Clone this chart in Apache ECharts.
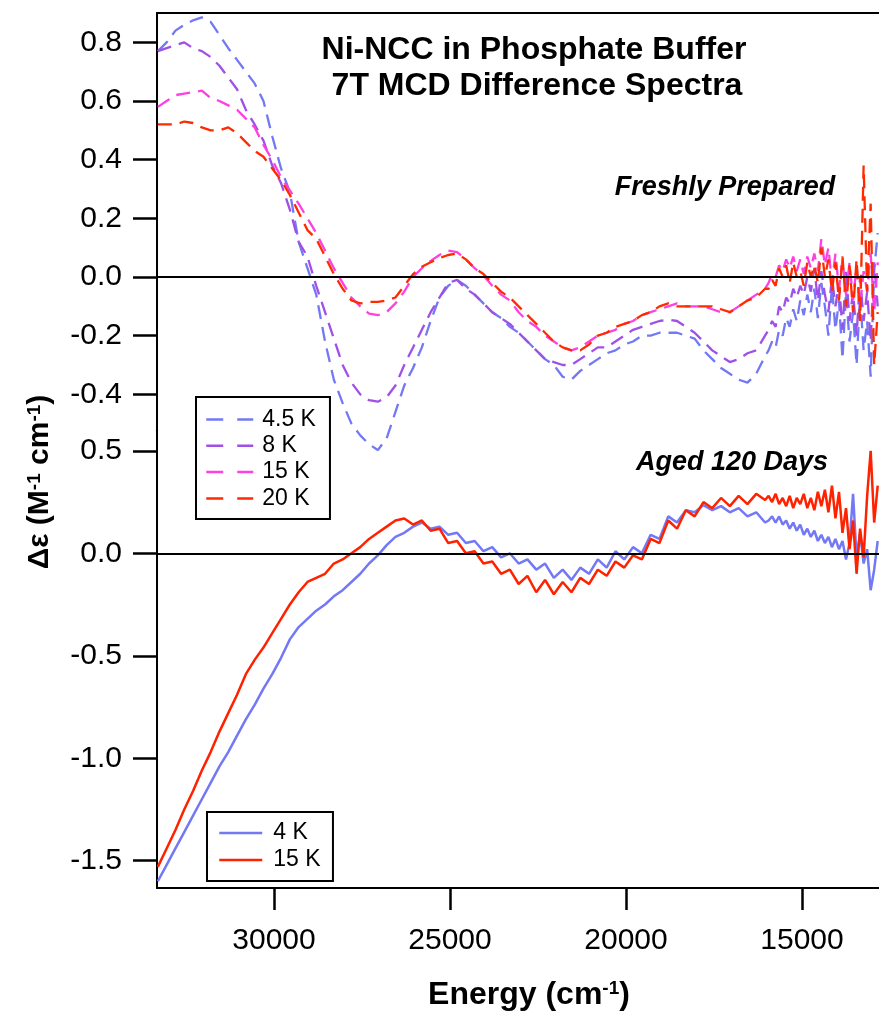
<!DOCTYPE html>
<html><head><meta charset="utf-8">
<script src="https://cdn.jsdelivr.net/npm/echarts@6/dist/echarts.min.js"></script>
<style>html,body{margin:0;padding:0;background:#fff}#c{width:879px;height:1014px}</style>
</head><body><div id="c"></div>
<script>
// Energy axis (cm^-1)
const energy = [33300,33050,32800,32550,32300,32050,31800,31550,31300,31050,30800,30550,30300,30050,29800,29550,29300,29050,28800,28550,28300,28050,27800,27550,27300,27050,26800,26550,26300,26050,25800,25550,25300,25050,24800,24550,24300,24050,23800,23550,23300,23050,22800,22550,22300,22050,21800,21550,21300,21050,20800,20550,20300,20050,19800,19550,19300,19050,18800,18550,18300,18050,17800,17550,17300,17050,16800,16550,16300,16050,
15950,15850,15750,15650,15550,15450,15350,15250,15150,15050,14950,14850,14750,14650,14550,14450,14350,14250,14150,14050,13950,13850,13750,13650,13550,13450,13350,13250,13150,13050,12950,12850];

// Freshly prepared (dashed)
const fresh_4_5K = [0.77,0.80,0.84,0.86,0.875,0.885,0.87,0.825,0.78,0.74,0.70,0.66,0.60,0.48,0.37,0.29,0.12,0.03,-0.06,-0.22,-0.35,-0.43,-0.50,-0.54,-0.57,-0.59,-0.55,-0.46,-0.37,-0.31,-0.24,-0.15,-0.07,-0.03,-0.01,-0.03,-0.06,-0.09,-0.12,-0.14,-0.17,-0.19,-0.22,-0.25,-0.28,-0.30,-0.34,-0.35,-0.32,-0.30,-0.28,-0.26,-0.25,-0.23,-0.22,-0.20,-0.20,-0.19,-0.19,-0.19,-0.20,-0.21,-0.25,-0.28,-0.31,-0.33,-0.35,-0.36,-0.33,-0.27,
-0.25,-0.22,-0.24,-0.18,-0.20,-0.14,-0.17,-0.11,-0.15,-0.08,-0.13,-0.06,-0.12,-0.04,-0.14,-0.02,-0.10,-0.20,-0.03,-0.18,-0.08,-0.28,-0.05,-0.22,-0.12,-0.30,-0.06,-0.25,-0.15,-0.34,0.02,0.15];
const fresh_8K = [0.77,0.78,0.79,0.80,0.78,0.77,0.75,0.72,0.68,0.64,0.57,0.52,0.465,0.38,0.32,0.23,0.12,0.07,-0.03,-0.12,-0.21,-0.30,-0.36,-0.40,-0.42,-0.425,-0.41,-0.37,-0.30,-0.24,-0.18,-0.12,-0.07,-0.02,-0.01,-0.04,-0.06,-0.09,-0.12,-0.14,-0.16,-0.19,-0.22,-0.25,-0.28,-0.29,-0.30,-0.30,-0.28,-0.26,-0.24,-0.24,-0.22,-0.20,-0.18,-0.17,-0.16,-0.15,-0.145,-0.15,-0.17,-0.19,-0.22,-0.25,-0.27,-0.29,-0.28,-0.26,-0.25,-0.20,
-0.18,-0.15,-0.17,-0.10,-0.12,-0.07,-0.09,-0.04,-0.07,-0.03,-0.06,0.00,-0.05,0.03,-0.08,0.02,-0.06,-0.12,0.00,-0.10,-0.02,-0.18,0.02,-0.15,-0.05,-0.20,0.00,-0.15,-0.05,-0.22,0.05,-0.10];
const fresh_15K = [0.58,0.60,0.62,0.625,0.63,0.635,0.61,0.60,0.585,0.57,0.54,0.51,0.45,0.40,0.34,0.295,0.25,0.20,0.15,0.09,0.03,-0.02,-0.07,-0.10,-0.125,-0.13,-0.12,-0.09,-0.05,0.00,0.03,0.055,0.075,0.09,0.085,0.06,0.03,0.005,-0.03,-0.06,-0.08,-0.12,-0.15,-0.17,-0.20,-0.22,-0.24,-0.25,-0.24,-0.22,-0.20,-0.19,-0.18,-0.16,-0.15,-0.13,-0.12,-0.11,-0.10,-0.09,-0.10,-0.10,-0.10,-0.11,-0.12,-0.12,-0.10,-0.08,-0.06,-0.04,
-0.02,0.01,0.00,0.04,0.02,0.06,0.03,0.07,0.02,0.06,0.01,0.07,0.03,0.08,0.02,0.13,0.04,0.10,-0.02,0.08,-0.04,0.06,-0.06,0.05,-0.08,0.04,-0.10,0.02,-0.05,0.08,-0.12,0.05];
const fresh_20K = [0.52,0.52,0.52,0.53,0.525,0.51,0.50,0.50,0.51,0.49,0.46,0.43,0.41,0.37,0.33,0.28,0.22,0.16,0.13,0.07,0.01,-0.04,-0.08,-0.09,-0.085,-0.085,-0.08,-0.07,-0.03,0.01,0.035,0.05,0.065,0.075,0.08,0.06,0.03,0.01,-0.02,-0.05,-0.07,-0.10,-0.13,-0.16,-0.19,-0.22,-0.24,-0.25,-0.25,-0.23,-0.20,-0.19,-0.17,-0.16,-0.15,-0.13,-0.12,-0.10,-0.09,-0.10,-0.10,-0.10,-0.10,-0.10,-0.11,-0.12,-0.10,-0.08,-0.07,-0.04,
-0.04,-0.01,-0.03,0.03,0.00,0.04,-0.02,0.05,0.00,0.02,-0.03,0.05,0.00,0.04,-0.02,0.10,0.00,0.06,-0.05,0.05,-0.08,0.07,-0.10,0.04,-0.12,0.06,-0.15,0.38,-0.05,0.25,-0.30,-0.12];

// Aged 120 days (solid)
const aged_4K = [-1.60,-1.52,-1.44,-1.36,-1.28,-1.20,-1.12,-1.04,-0.97,-0.89,-0.81,-0.74,-0.66,-0.59,-0.51,-0.42,-0.36,-0.32,-0.28,-0.25,-0.21,-0.18,-0.14,-0.10,-0.05,-0.01,0.04,0.08,0.10,0.13,0.15,0.12,0.13,0.09,0.10,0.05,0.06,0.01,0.03,-0.02,0.00,-0.05,-0.03,-0.08,-0.05,-0.12,-0.08,-0.13,-0.07,-0.10,-0.03,-0.07,0.01,-0.03,0.03,0.00,0.09,0.07,0.18,0.15,0.21,0.20,0.235,0.21,0.23,0.20,0.22,0.18,0.20,0.15,
0.16,0.18,0.15,0.18,0.14,0.16,0.12,0.15,0.11,0.14,0.09,0.12,0.08,0.11,0.06,0.09,0.05,0.08,0.03,0.07,0.02,0.06,-0.03,0.05,0.29,-0.02,0.10,-0.05,0.02,-0.18,-0.08,0.06];
const aged_15K = [-1.53,-1.44,-1.35,-1.25,-1.16,-1.06,-0.97,-0.87,-0.78,-0.69,-0.59,-0.52,-0.46,-0.39,-0.32,-0.25,-0.19,-0.14,-0.12,-0.10,-0.05,-0.03,0.00,0.03,0.07,0.10,0.13,0.16,0.17,0.14,0.16,0.11,0.12,0.05,0.06,0.00,0.01,-0.05,-0.04,-0.10,-0.08,-0.15,-0.11,-0.19,-0.13,-0.20,-0.14,-0.19,-0.12,-0.15,-0.08,-0.11,-0.04,-0.07,-0.01,-0.03,0.07,0.05,0.16,0.12,0.21,0.18,0.25,0.22,0.27,0.23,0.28,0.24,0.29,0.26,
0.28,0.25,0.29,0.24,0.27,0.23,0.28,0.22,0.27,0.24,0.29,0.22,0.27,0.21,0.30,0.23,0.31,0.20,0.33,0.17,0.30,0.10,0.22,0.02,0.16,-0.10,0.12,-0.02,0.28,0.50,0.15,0.33];

const freshNames = ['4.5 K','8 K','15 K','20 K'];
const agedNames = ['4 K','15 K '];
const topTicks = [-0.4,-0.2,0,0.2,0.4,0.6,0.8];
const bottomTicks = [-1.5,-1,-0.5,0,0.5];
const xTicks = [15000,20000,25000,30000];

const FONT = '"Liberation Sans", Arial, Helvetica, sans-serif';
const C_BLUE='#7378F5', C_PURPLE='#A050E6', C_MAG='#FF40E0', C_RED='#FF2A00', C_RED2='#FF2200';
const X_MIN=12813, X_MAX=33324;
function pairs(vals){ return energy.map((e,i)=>[e, vals[i]]); }
const fmt1 = v => Number(v).toFixed(1);
const zeroLine = {silent:true,symbol:'none',label:{show:false},lineStyle:{color:'#000',type:'solid',width:2},data:[{yAxis:0}]};

function dashed(name,vals,color,extra){
  return Object.assign({name,type:'line',xAxisIndex:0,yAxisIndex:0,data:pairs(vals),symbol:'none',
    lineStyle:{color,width:2.3,type:[14,8]},itemStyle:{color}},extra||{});
}
function solid(name,vals,color,extra){
  return Object.assign({name,type:'line',xAxisIndex:1,yAxisIndex:1,data:pairs(vals),symbol:'none',
    lineStyle:{color,width:2.5,type:'solid'},itemStyle:{color}},extra||{});
}
const yLabel = (ticks)=>({customValues:ticks,margin:35,fontSize:30,color:'#000',fontFamily:FONT,formatter:fmt1});
const yTick = (ticks)=>({show:true,length:24,customValues:ticks,lineStyle:{width:2.5,color:'#000'}});

const chart = echarts.init(document.getElementById('c'));
chart.setOption({
  animation:false,
  backgroundColor:'#fff',
  grid:[{left:157,right:0,top:13,height:440},{left:157,right:0,top:430.3,height:457.7}],
  xAxis:[
    {gridIndex:0,type:'value',min:X_MIN,max:X_MAX,inverse:true,position:'top',
     axisLine:{show:true,onZero:false,lineStyle:{color:'#000',width:2}},axisTick:{show:false},axisLabel:{show:false},splitLine:{show:false}},
    {gridIndex:1,type:'value',min:X_MIN,max:X_MAX,inverse:true,position:'bottom',
     axisLine:{show:true,onZero:false,lineStyle:{color:'#000',width:2}},
     axisTick:{show:true,length:22,customValues:xTicks,lineStyle:{width:2.5,color:'#000'}},
     axisLabel:{customValues:xTicks,margin:38,fontSize:30,color:'#000',fontFamily:FONT,formatter:v=>String(v)},
     splitLine:{show:false}}
  ],
  yAxis:[
    {gridIndex:0,type:'value',min:-0.6,max:0.9,axisLine:{show:true,onZero:false,lineStyle:{color:'#000',width:2}},
     axisTick:yTick(topTicks),axisLabel:yLabel(topTicks),splitLine:{show:false}},
    {gridIndex:1,type:'value',min:-1.633,max:0.6,axisLine:{show:true,onZero:false,lineStyle:{color:'#000',width:2}},
     axisTick:yTick(bottomTicks),axisLabel:yLabel(bottomTicks),splitLine:{show:false}}
  ],
  legend:[
    {data:freshNames,orient:'vertical',left:196,top:397,itemWidth:47,itemHeight:21,itemGap:3.3,
     padding:[11,14,9,9],borderColor:'#000',borderWidth:2,backgroundColor:'#fff',selectedMode:false,
     itemStyle:{opacity:0},lineStyle:{type:[17,14],width:2.5},
     textStyle:{fontSize:23,fontFamily:FONT,color:'#000',lineHeight:21,padding:[0,0,0,4]}},
    {data:agedNames,orient:'vertical',left:207,top:812,itemWidth:43,itemHeight:21,itemGap:4,
     padding:[9.5,6,9.5,11],borderColor:'#000',borderWidth:2,backgroundColor:'#fff',selectedMode:false,
     itemStyle:{opacity:0},lineStyle:{width:2.5},
     textStyle:{fontSize:23,fontFamily:FONT,color:'#000',lineHeight:21,padding:[0,0,0,6]}}
  ],
  series:[
    dashed(freshNames[0],fresh_4_5K,C_BLUE,{markLine:zeroLine}),
    dashed(freshNames[1],fresh_8K,C_PURPLE),
    dashed(freshNames[2],fresh_15K,C_MAG),
    dashed(freshNames[3],fresh_20K,C_RED),
    solid(agedNames[0],aged_4K,C_BLUE,{markLine:zeroLine}),
    solid(agedNames[1],aged_15K,C_RED2)
  ],
  graphic:[
    {type:'text',x:534,y:50,style:{text:'Ni-NCC in Phosphate Buffer',font:'bold 32px '+FONT,fill:'#000',textAlign:'center',textVerticalAlign:'middle'}},
    {type:'text',x:537,y:86,style:{text:'7T MCD Difference Spectra',font:'bold 32px '+FONT,fill:'#000',textAlign:'center',textVerticalAlign:'middle'}},
    {type:'text',x:725,y:188,style:{text:'Freshly Prepared',font:'italic bold 27px '+FONT,fill:'#000',textAlign:'center',textVerticalAlign:'middle'}},
    {type:'text',x:732,y:463,style:{text:'Aged 120 Days',font:'italic bold 27px '+FONT,fill:'#000',textAlign:'center',textVerticalAlign:'middle'}},
    {type:'text',x:40,y:482,rotation:Math.PI/2,style:{text:'{b|Δε (M}{s|-1}{b| cm}{s|-1}{b|)}',
      rich:{b:{font:'bold 30px '+FONT,fill:'#000'},s:{font:'bold 19px '+FONT,fill:'#000',verticalAlign:'top'}},
      textAlign:'center',textVerticalAlign:'middle'}},
    {type:'text',x:529,y:995,style:{text:'{b|Energy (cm}{s|-1}{b|)}',
      rich:{b:{font:'bold 32px '+FONT,fill:'#000'},s:{font:'bold 19px '+FONT,fill:'#000',verticalAlign:'top'}},
      textAlign:'center',textVerticalAlign:'middle'}}
  ]
});
</script></body></html>
